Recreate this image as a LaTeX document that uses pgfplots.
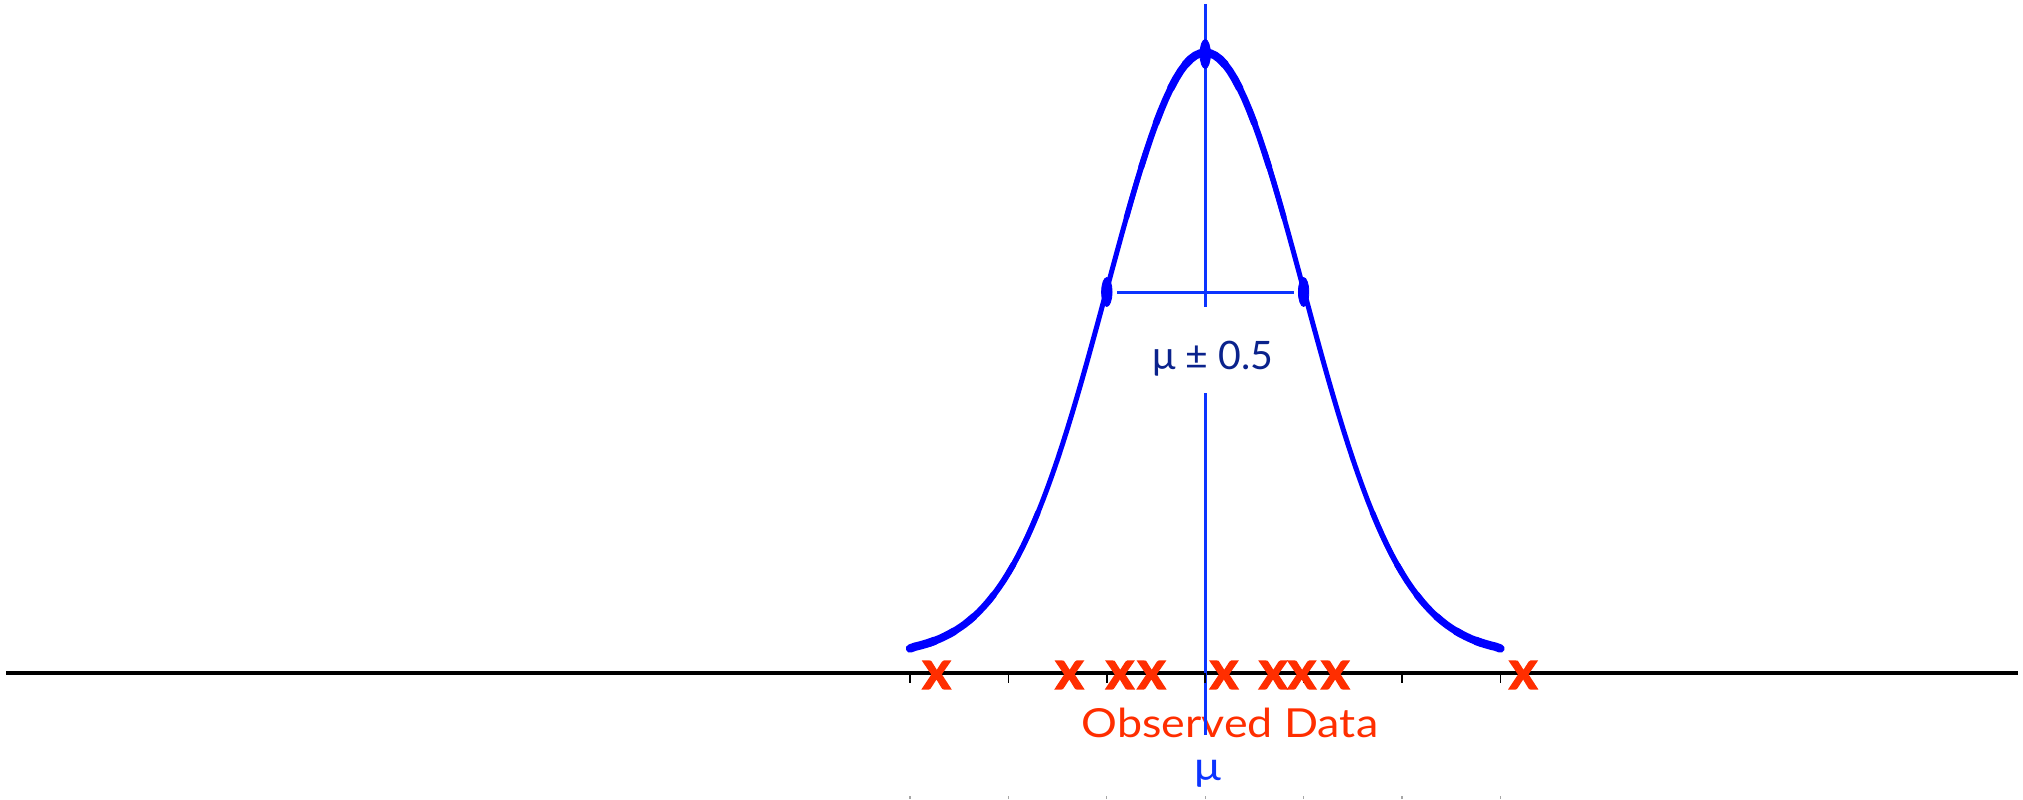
\documentclass[border=0pt]{standalone}
\usepackage{pgfplots}
\usepackage{pgfplotstable}
\pgfplotsset{compat=1.18}
\usepackage{fontspec}
\setmainfont{Lato}
\newfontfamily\lblfont{Lato}[FakeStretch=1.12]
\newfontfamily\crossfont{Lato}[BoldFeatures={FakeBold=2.5}]

\definecolor{curveblue}{RGB}{0,0,255}
\definecolor{lineblue}{RGB}{12,52,255}
\definecolor{labelnavy}{RGB}{10,34,140}
\definecolor{obsred}{RGB}{255,46,0}

% density curve (x in units of 0.5, height above the baseline)
\pgfplotstableread{
x h
-3.00 24.5
-2.95 26.3
-2.90 27.5
-2.85 28.9
-2.80 30.4
-2.75 32.2
-2.70 34.2
-2.65 36.5
-2.60 39.0
-2.55 41.8
-2.50 45.0
-2.45 48.4
-2.40 52.3
-2.35 56.5
-2.30 61.2
-2.25 66.4
-2.20 72.0
-2.15 78.2
-2.10 84.9
-2.05 92.1
-2.00 100.0
-1.95 108.4
-1.90 117.5
-1.85 127.2
-1.80 137.6
-1.75 148.7
-1.70 160.4
-1.65 172.8
-1.60 185.9
-1.55 199.6
-1.50 213.9
-1.45 228.9
-1.40 244.4
-1.35 260.5
-1.30 277.1
-1.25 294.1
-1.20 311.5
-1.15 329.3
-1.10 347.2
-1.05 365.4
-1.00 383.6
-0.95 401.9
-0.90 420.0
-0.85 438.0
-0.80 455.6
-0.75 472.9
-0.70 489.7
-0.65 505.9
-0.60 521.3
-0.55 536.0
-0.50 549.8
-0.45 562.5
-0.40 574.2
-0.35 584.7
-0.30 594.0
-0.25 602.0
-0.20 608.6
-0.15 613.8
-0.10 617.5
-0.05 619.7
0.00 620.0
0.05 619.7
0.10 617.5
0.15 613.8
0.20 608.6
0.25 602.0
0.30 594.0
0.35 584.7
0.40 574.2
0.45 562.5
0.50 549.8
0.55 536.0
0.60 521.3
0.65 505.9
0.70 489.7
0.75 472.9
0.80 455.6
0.85 438.0
0.90 420.0
0.95 401.9
1.00 383.6
1.05 365.4
1.10 347.2
1.15 329.3
1.20 311.5
1.25 294.1
1.30 277.1
1.35 260.5
1.40 244.4
1.45 228.9
1.50 213.9
1.55 199.6
1.60 185.9
1.65 172.8
1.70 160.4
1.75 148.7
1.80 137.6
1.85 127.2
1.90 117.5
1.95 108.4
2.00 100.0
2.05 92.1
2.10 84.9
2.15 78.2
2.20 72.0
2.25 66.4
2.30 61.2
2.35 56.5
2.40 52.3
2.45 48.4
2.50 45.0
2.55 41.8
2.60 39.0
2.65 36.5
2.70 34.2
2.75 32.2
2.80 30.4
2.85 28.9
2.90 27.5
2.95 26.3
3.00 24.5
}\curvedata

% observed sample
\pgfplotstableread{
x h
-2.73 -2
-1.38 -2
-0.866 -2
-0.546 -2
0.191 -2
0.69 -2
0.982 -2
1.322 -2
3.232 -2
}\obsdata

\pgfplotsset{
  seg/.style n args={3}{curveblue, line width=#3, line cap=round, line join=round,
    restrict x to domain=#1:#2, forget plot},
}
% one stroke piece on each side of the mean
\newcommand\segpair[3]{%
  \addplot[seg={#1}{#2}{#3}] table[x=x, y=h] {\curvedata};
  \addplot[seg={-#2}{-#1}{#3}] table[x=x, y=h] {\curvedata};
}

\begin{document}
\begin{tikzpicture}
\begin{axis}[
  scale only axis, width=1011.5pt, height=399.5pt,
  xmin=-12.248, xmax=8.311, ymin=-126, ymax=673,
  axis line style={draw=none},
  xtick={-3,...,3}, ytick=\empty, xticklabels={},
  xtick pos=left, tick align=inside,
  major tick length=1.5pt, tick style={gray!70, line width=0.6pt},
  clip=false,
]
% baseline and its ticks
\addplot[black, line width=2pt] coordinates {(-12.187,0) (8.260,0)};
\addplot[only marks, mark=|, mark size=2.5pt, mark options={black, line width=0.75pt}]
  coordinates {(-3,-5) (-2,-5) (-1,-5) (0,-5) (1,-5) (2,-5) (3,-5)};

% density curve, stroke thicker at the peak and the tails
\addplot[seg={-3}{3}{2.5pt}] table[x=x, y=h] {\curvedata};
\segpair{0.6}{0.8}{2.75pt}
\segpair{0.45}{0.65}{3.05pt}
\segpair{0.3}{0.5}{3.4pt}
\segpair{0.15}{0.35}{3.8pt}
\addplot[seg={-0.2}{0.2}{4.1pt}] table[x=x, y=h] {\curvedata};
\segpair{1.7}{2.0}{2.75pt}
\segpair{1.95}{2.2}{3.0pt}
\segpair{2.15}{2.4}{3.3pt}
\segpair{2.35}{2.6}{3.6pt}
\segpair{2.55}{2.8}{3.9pt}
\segpair{2.75}{3.0}{4.2pt}

% points marked on the curve
\addplot[only marks, mark=*, mark size=7.25pt,
  mark options={xscale=0.36, fill=curveblue, draw=curveblue}]
  coordinates {(0,619) (-1,381) (1,381)};

% labels
\node[anchor=base, text=obsred, font=\lblfont\fontsize{20}{22}\selectfont, inner sep=0pt]
  at (axis cs:0.252,-64) {Observed Data};
\node[anchor=base, text=labelnavy, font=\fontsize{19.6}{22}\selectfont, inner sep=0pt]
  at (axis cs:0.079,304) {μ ± 0.5};
\node[anchor=base, text=lineblue, font=\lblfont\fontsize{20}{22}\selectfont, inner sep=0pt]
  at (axis cs:0.03,-107) {μ};

% mean and spread
\addplot[lineblue, line width=1.65pt] coordinates {(0.005,669) (0.005,366)};
\addplot[lineblue, line width=1.65pt] coordinates {(0.005,280) (0.005,-62)};
\addplot[lineblue, line width=1.5pt] coordinates {(-0.896,381) (0.902,381)};

% observations
\addplot[only marks, mark=text,
  text mark={\crossfont\bfseries\fontsize{27}{27}\selectfont\color{obsred}x}]
  table[x=x, y=h] {\obsdata};
\end{axis}
\pgfresetboundingbox
\useasboundingbox (current axis.south west) rectangle (current axis.north east);
\end{tikzpicture}
\end{document}
